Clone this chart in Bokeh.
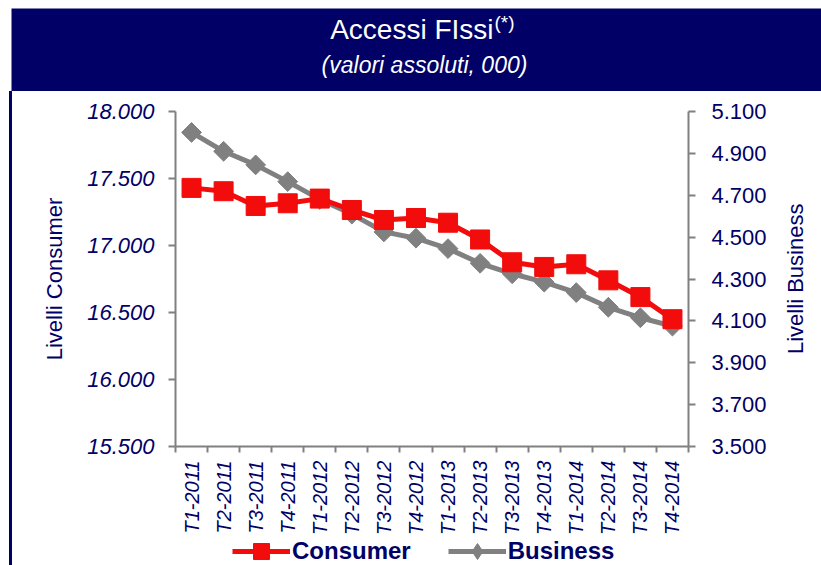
import math
from bokeh.plotting import figure
from bokeh.layouts import column, row
from bokeh.models import (Range1d, LinearAxis, FixedTicker, CustomJSTickFormatter,
                          Legend, LegendItem, Div)
from bokeh.core.properties import value
from bokeh.embed import file_html
from bokeh.resources import INLINE

# ---------------- data ----------------
quarters = ["T1-2011", "T2-2011", "T3-2011", "T4-2011",
            "T1-2012", "T2-2012", "T3-2012", "T4-2012",
            "T1-2013", "T2-2013", "T3-2013", "T4-2013",
            "T1-2014", "T2-2014", "T3-2014", "T4-2014"]
consumer = [17430, 17405, 17295, 17315, 17350, 17265, 17190, 17205,
            17170, 17045, 16875, 16840, 16860, 16740, 16615, 16450]
business = [5000, 4910, 4845, 4765, 4680, 4610, 4525, 4495,
            4445, 4375, 4325, 4285, 4235, 4165, 4115, 4075]
consumer_ticks = [15500, 16000, 16500, 17000, 17500, 18000]
business_ticks = [3500, 3700, 3900, 4100, 4300, 4500, 4700, 4900, 5100]
title_text = "Accessi FIssi"
title_note = "(*)"
subtitle_text = "(valori assoluti, 000)"
consumer_label = "Consumer"
business_label = "Business"
left_axis_label = "Livelli Consumer"
right_axis_label = "Livelli Business"

# ---------------- style ----------------
NAVY = "#000066"
RED = "#F20C0C"
GRAY = "#808080"
FONT = "Liberation Sans"

W = 821
BANNER_H = 91
CHART_H = 446
LEGEND_H = 28
RULE_BOX_W = 12
RLABEL_W = 41
BORDER_TOP = 20
BORDER_BOTTOM = 90

# ---------------- banner ----------------
banner = figure(width=W, height=BANNER_H, x_range=Range1d(0, W), y_range=Range1d(BANNER_H, 0),
                min_border=0, toolbar_location=None, output_backend="svg",
                x_axis_location=None, y_axis_location=None,
                outline_line_color=None, background_fill_color="white",
                border_fill_color="white")
banner.grid.visible = False
banner.quad(left=[11], right=[W], top=[8], bottom=[BANNER_H], fill_color=NAVY, line_color=None)
banner.text(x=[493], y=[29], text=[title_text], text_align="right", text_baseline="alphabetic",
            text_color="white", text_font=value(FONT), text_font_size="28px")
banner.text(x=[494], y=[22], text=[title_note], text_align="left", text_baseline="alphabetic",
            text_color="white", text_font=value(FONT), text_font_size="19px")
banner.text(x=[424], y=[64], text=[subtitle_text], text_align="center", text_baseline="alphabetic",
            text_color="white", text_font=value(FONT), text_font_size="23px",
            text_font_style="italic")

# ---------------- chart ----------------
n = len(quarters)
xs = [i + 0.5 for i in range(n)]
CW = W - RULE_BOX_W - RLABEL_W

p = figure(width=CW, height=CHART_H,
           x_range=Range1d(0, n),
           y_range=Range1d(consumer_ticks[0], consumer_ticks[-1]),
           min_border_left=163, min_border_right=92, min_border_top=BORDER_TOP,
           min_border_bottom=BORDER_BOTTOM,
           toolbar_location=None, output_backend="svg", outline_line_color=None,
           background_fill_color="white", border_fill_color="white")
p.extra_y_ranges = {"biz": Range1d(business_ticks[0], business_ticks[-1])}
p.grid.visible = False

fmt = CustomJSTickFormatter(code="return Math.round(tick).toString().replace(/\\B(?=(\\d{3})+(?!\\d))/g, '.');")

# x axis
xa = p.xaxis[0]
xa.ticker = FixedTicker(ticks=xs, minor_ticks=list(range(n + 1)))
xa.major_label_overrides = {x: q for x, q in zip(xs, quarters)}
xa.major_label_orientation = math.pi / 2
xa.major_tick_out = 0
xa.major_tick_in = 0
xa.minor_tick_out = 6
xa.minor_tick_in = 0
xa.minor_tick_line_color = GRAY
xa.minor_tick_line_width = 2
xa.axis_line_color = GRAY
xa.axis_line_width = 2
xa.major_label_text_font = FONT
xa.major_label_text_font_size = "20px"
xa.major_label_text_font_style = "italic"
xa.major_label_text_color = NAVY
xa.major_label_standoff = 8

# left axis
ya = p.yaxis[0]
ya.ticker = FixedTicker(ticks=consumer_ticks)
ya.formatter = fmt
ya.axis_label = left_axis_label
ya.axis_label_text_font = FONT
ya.axis_label_text_font_size = "22px"
ya.axis_label_text_font_style = "normal"
ya.axis_label_text_color = NAVY
ya.axis_label_standoff = 17
ya.major_label_text_font = FONT
ya.major_label_text_font_size = "22px"
ya.major_label_text_font_style = "italic"
ya.major_label_text_color = NAVY
ya.major_label_standoff = 14
ya.major_tick_out = 7
ya.major_tick_in = 0
ya.minor_tick_out = 0
ya.minor_tick_in = 0
ya.major_tick_line_color = GRAY
ya.major_tick_line_width = 2
ya.axis_line_color = GRAY
ya.axis_line_width = 2

# right axis (its title is drawn in the strip to the right, reading bottom-to-top)
ra = LinearAxis(y_range_name="biz", ticker=FixedTicker(ticks=business_ticks), formatter=fmt)
ra.major_label_text_font = FONT
ra.major_label_text_font_size = "22px"
ra.major_label_text_font_style = "normal"
ra.major_label_text_color = NAVY
ra.major_label_standoff = 16
ra.major_tick_out = 7
ra.major_tick_in = 0
ra.minor_tick_out = 0
ra.minor_tick_in = 0
ra.major_tick_line_color = GRAY
ra.major_tick_line_width = 2
ra.axis_line_color = GRAY
ra.axis_line_width = 2
p.add_layout(ra, "right")

# series
p.line(xs, business, y_range_name="biz", line_color=GRAY, line_width=5)
p.scatter(xs, business, y_range_name="biz", marker="square", angle=math.pi / 4,
          size=14, fill_color=GRAY, line_color=GRAY)
p.line(xs, consumer, line_color=RED, line_width=5)
p.scatter(xs, consumer, marker="square", size=19, fill_color=RED, line_color=RED)

# ---------------- legend strip (below the chart) ----------------
lg = figure(width=CW, height=LEGEND_H, x_range=Range1d(-2, -1), y_range=Range1d(-2, -1),
            min_border=0, toolbar_location=None, output_backend="svg",
            x_axis_location=None, y_axis_location=None, outline_line_color=None,
            background_fill_color="white", border_fill_color="white")
lg.grid.visible = False
cl = lg.line(xs, consumer, line_color=RED, line_width=5)
cs = lg.scatter(xs, consumer, marker="square", size=19, fill_color=RED, line_color=RED)
bl = lg.line(xs, business, line_color=GRAY, line_width=5)
bs = lg.scatter(xs, business, marker="diamond", size=19, fill_color=GRAY, line_color=GRAY)
legend = Legend(items=[LegendItem(label=consumer_label, renderers=[cl, cs]),
                       LegendItem(label=business_label, renderers=[bl, bs])],
                location=(57, -6), orientation="horizontal",
                glyph_width=58, glyph_height=40, label_standoff=2, spacing=37,
                padding=0, margin=0, border_line_color=None, background_fill_alpha=0,
                label_text_font=FONT, label_text_font_size="24px", label_height=26,
                label_text_font_style="bold", label_text_color=NAVY)
lg.add_layout(legend)

# ---------------- left vertical rule ----------------
SIDE_H = CHART_H + LEGEND_H
rule = Div(text='<div style="margin-left:9px;width:3px;height:%dpx;background:%s"></div>'
           % (SIDE_H, NAVY), width=RULE_BOX_W, height=SIDE_H, margin=0)

# ---------------- right axis title strip ----------------
frame_h = CHART_H - BORDER_TOP - BORDER_BOTTOM
rlabel = Div(text=('<div style="position:relative;width:%dpx;height:%dpx;">'
                   '<div style="position:absolute;left:4px;top:%dpx;height:%dpx;width:24px;'
                   'writing-mode:vertical-rl;transform:rotate(180deg);text-align:center;'
                   'font-family:\'Liberation Sans\';font-size:22px;line-height:24px;color:%s;'
                   'white-space:nowrap;">%s</div></div>')
             % (RLABEL_W, SIDE_H, BORDER_TOP, frame_h, NAVY, right_axis_label),
             width=RLABEL_W, height=SIDE_H, margin=0)

layout = column(banner, row(rule, column(p, lg), rlabel))

open("out.html", "w").write(file_html(layout, INLINE))
